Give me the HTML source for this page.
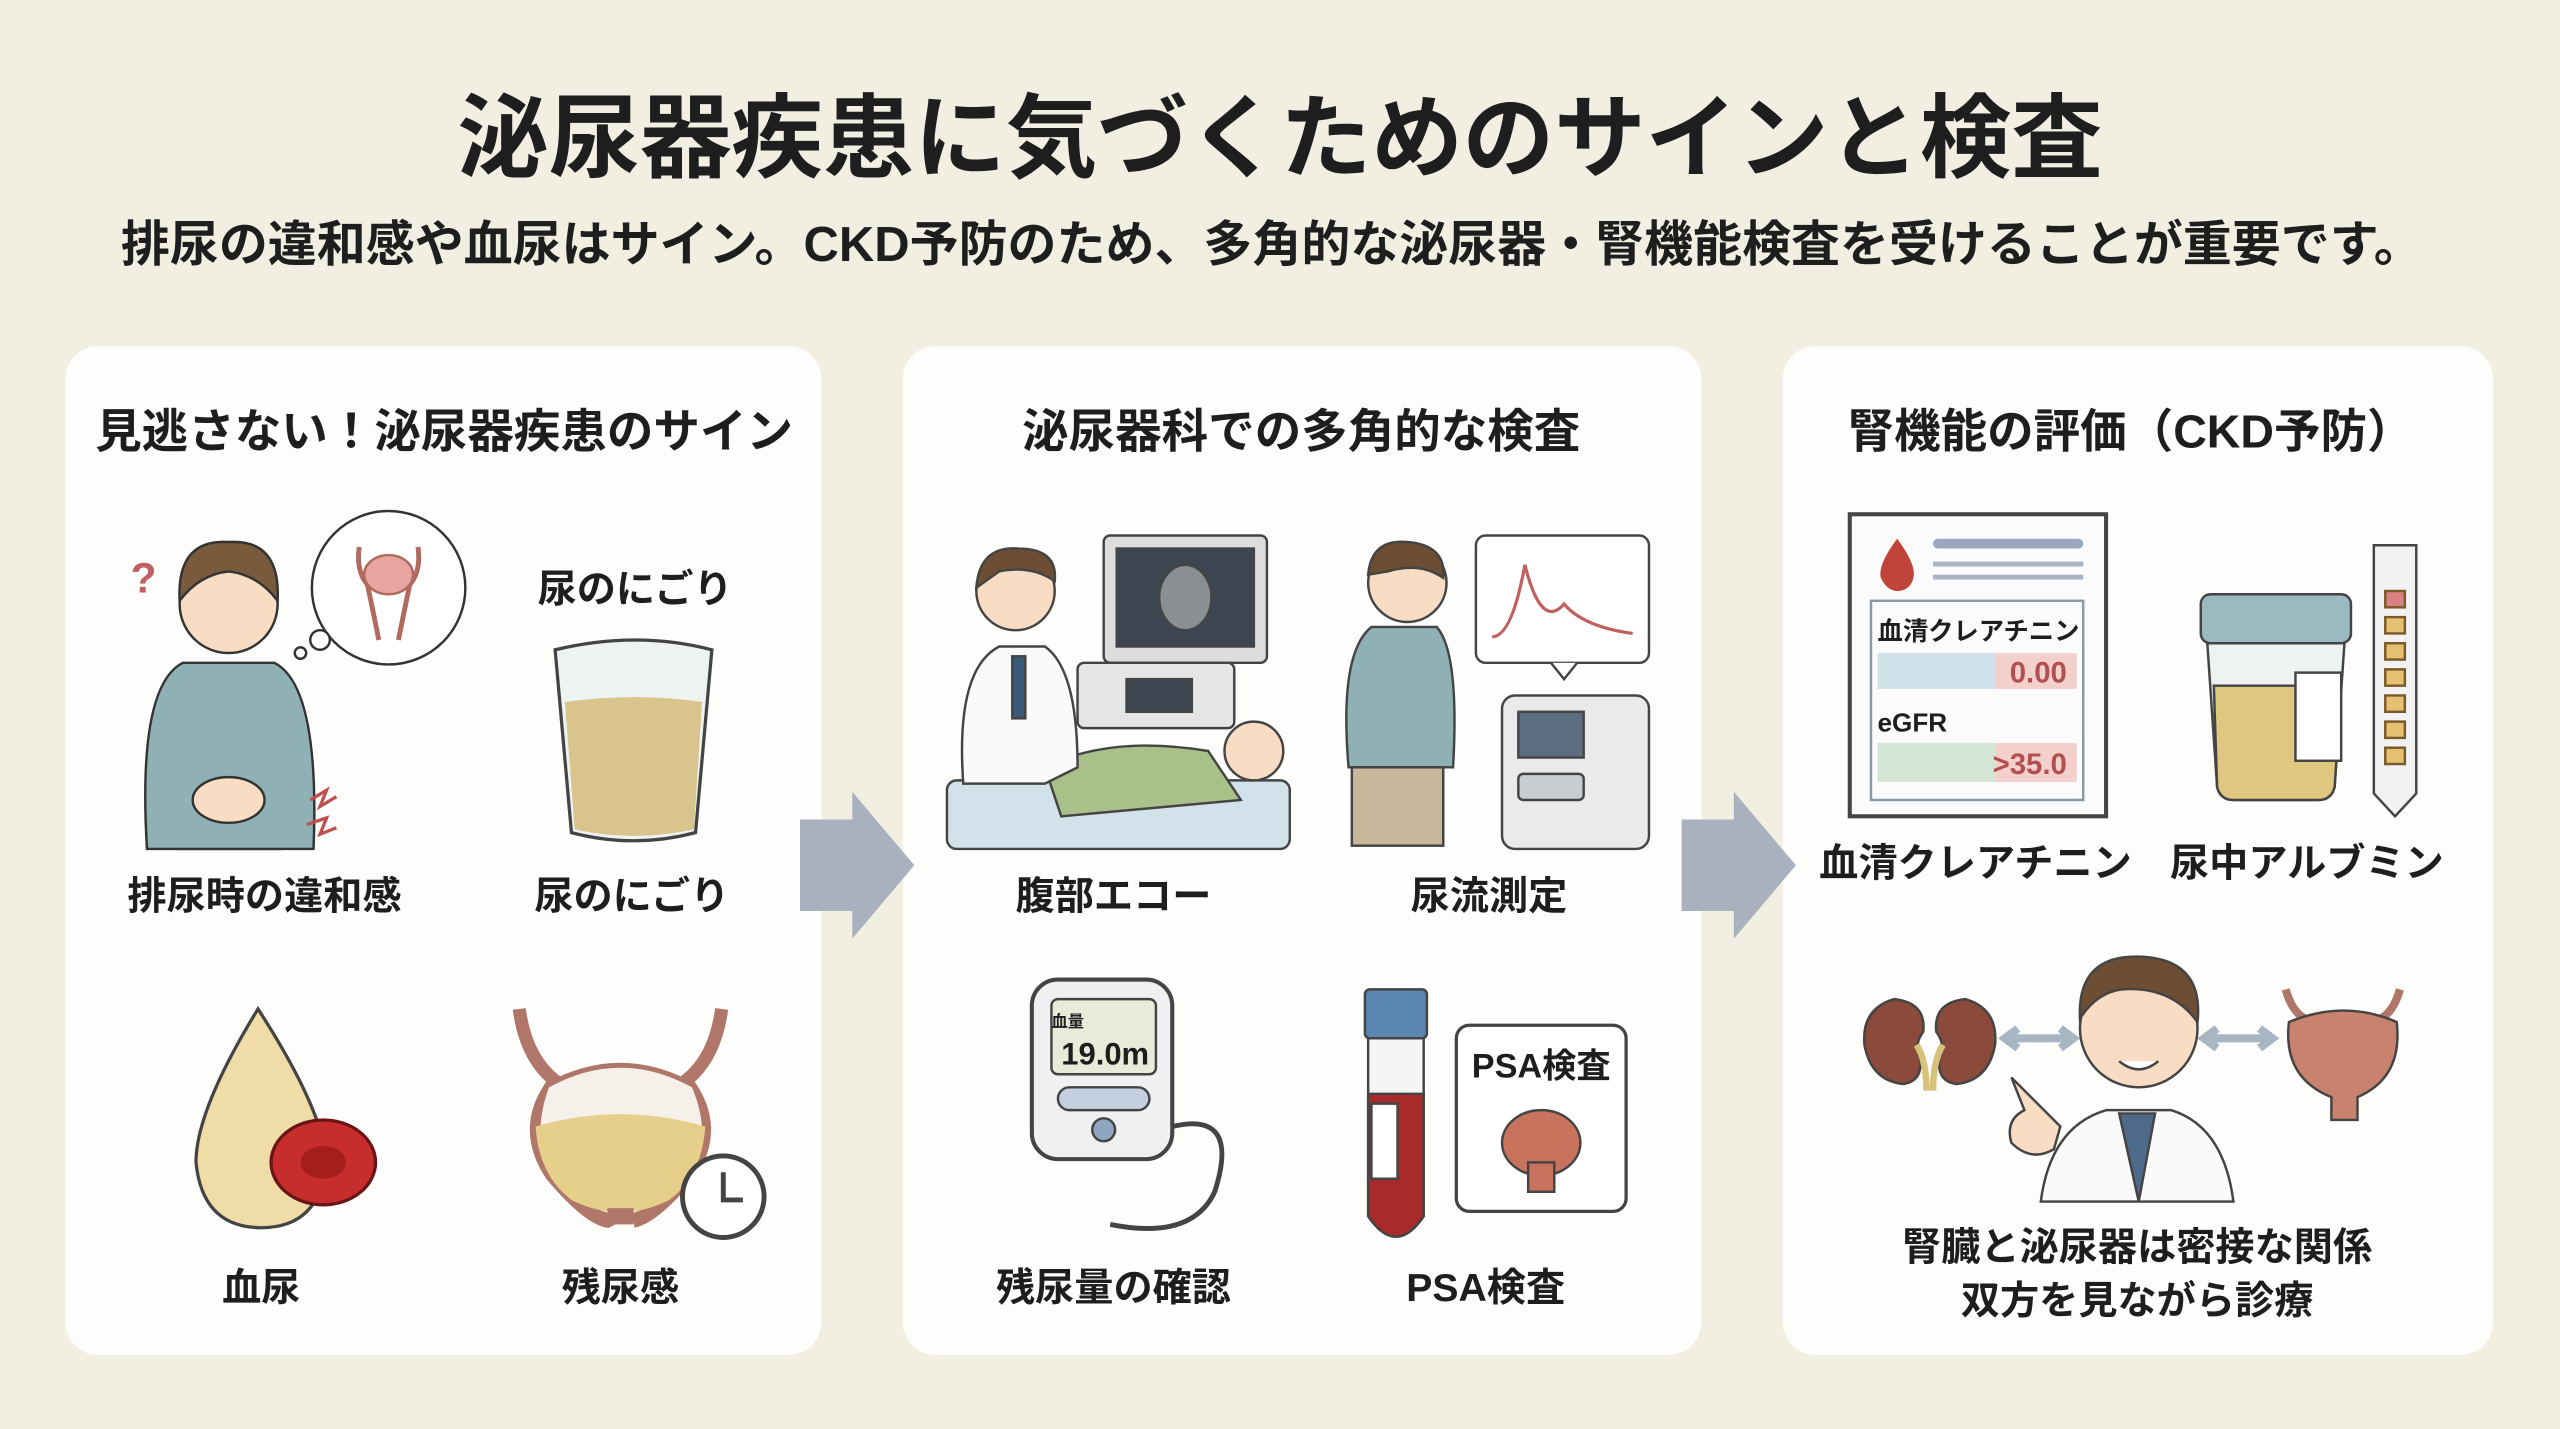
<!DOCTYPE html>
<html><head><meta charset="utf-8"><style>
html,body{margin:0;padding:0;background:#f1efe1;}
svg{display:block;}
text{font-family:"Liberation Sans","Noto Sans CJK JP",sans-serif;font-weight:bold;fill:#1e1e1e;}
</style></head><body>
<svg width="2560" height="1429" viewBox="0 0 1568 875.3" xmlns="http://www.w3.org/2000/svg">
<rect width="1568" height="876" fill="#f1efe1"/>
<text x="784" y="104" font-size="56" text-anchor="middle">泌尿器疾患に気づくためのサインと検査</text>
<text x="779" y="160" font-size="30" text-anchor="middle">排尿の違和感や血尿はサイン。CKD予防のため、多角的な泌尿器・腎機能検査を受けることが重要です。</text>

<rect x="40" y="212" width="463" height="618" rx="20" fill="#fdfdfb"/>
<rect x="553" y="212" width="489" height="618" rx="20" fill="#fdfdfb"/>
<rect x="1092" y="212" width="435" height="618" rx="20" fill="#fdfdfb"/>

<path d="M490 502 H522 V485 L560 530 L522 575 V558 H490 Z" fill="#a9b1bf"/>
<path d="M1030 502 H1062 V485 L1100 530 L1062 575 V558 H1030 Z" fill="#a9b1bf"/>

<g font-size="28.5" text-anchor="middle">
<text x="272" y="274">見逃さない！泌尿器疾患のサイン</text>
<text x="797" y="274">泌尿器科での多角的な検査</text>
<text x="1305" y="274">腎機能の評価（CKD予防）</text>
</g>
<g font-size="24" text-anchor="middle">
<text x="162" y="557">排尿時の違和感</text>
<text x="387" y="557">尿のにごり</text>
<text x="389" y="369">尿のにごり</text>
<text x="160" y="797">血尿</text>
<text x="380" y="797">残尿感</text>
<text x="682" y="557">腹部エコー</text>
<text x="912" y="557">尿流測定</text>
<text x="682" y="797">残尿量の確認</text>
<text x="910" y="797">PSA検査</text>
<text x="1210" y="537">血清クレアチニン</text>
<text x="1413" y="537">尿中アルブミン</text>
<text x="1309" y="772">腎臓と泌尿器は密接な関係</text>
<text x="1309" y="805">双方を見ながら診療</text>
</g>

<g stroke="#333" stroke-width="1.5">
<text x="80" y="363" font-size="26" fill="#c06060" stroke="none" style="fill:#c06060">?</text>
<rect x="108" y="470" width="64" height="50" fill="#c9b79b"/>
<path d="M90 520 Q84 420 112 406 L168 406 Q196 420 192 520 Z" fill="#8fb0b5"/>
<circle cx="140" cy="370" r="30" fill="#f8dcc4"/>
<path d="M110 368 Q108 330 140 332 Q172 330 170 368 Q158 352 140 350 Q122 352 110 368Z" fill="#7a5a3c"/>
<ellipse cx="140" cy="490" rx="22" ry="14" fill="#f8dcc4"/>
<circle cx="238" cy="360" r="47" fill="#fff"/>
<circle cx="196" cy="392" r="6" fill="#fff"/>
<circle cx="184" cy="400" r="3.5" fill="#fff"/>
<path d="M220 335 Q218 350 225 358 Q228 372 232 392 M256 335 Q258 350 251 358 Q248 372 244 392" fill="none" stroke="#b06a5f" stroke-width="3"/>
<ellipse cx="238" cy="352" rx="15" ry="12" fill="#e7a4a0" stroke="#b06a5f"/>
<path d="M190 490 l10 -6 -4 10 10 -6 M188 505 l12 -4 -4 10 10 -4" fill="none" stroke="#c05050" stroke-width="2"/>
</g>
<path d="M340 398 Q390 386 436 398 L426 510 Q388 520 350 510 Z" fill="#eef2f3" stroke="#444" stroke-width="2"/>
<path d="M346 430 Q390 424 430 430 L425 508 Q388 516 352 508 Z" fill="#d9c48b"/>
<path d="M158 618 Q120 680 120 712 Q124 752 160 752 Q196 752 200 712 Q198 680 158 618Z" fill="#efdca6" stroke="#444" stroke-width="2"/>
<ellipse cx="198" cy="712" rx="32" ry="26" fill="#c82d2d" stroke="#6a1515" stroke-width="2"/>
<ellipse cx="198" cy="712" rx="14" ry="10" fill="#a51e1e"/>
<path d="M318 618 Q322 648 340 662 Q318 690 338 720 Q360 746 372 748 L376 746 M442 618 Q438 648 420 662 Q442 690 422 720 Q400 746 388 748" fill="none" stroke="#b0766a" stroke-width="8"/>
<path d="M335 665 Q380 640 425 665 Q440 700 420 722 Q400 744 380 746 Q360 744 340 722 Q322 700 335 665Z" fill="#f5f0ea" stroke="#b0766a" stroke-width="3"/>
<path d="M328 690 Q380 675 432 690 Q430 720 410 735 Q380 750 350 735 Q330 720 328 690Z" fill="#e5cf8a"/>
<rect x="372" y="740" width="16" height="10" fill="#b0766a"/>
<circle cx="443" cy="733" r="25" fill="#fff" stroke="#444" stroke-width="3"/>
<path d="M443 718 V735 H455" stroke="#444" stroke-width="3" fill="none"/>

<g stroke="#444" stroke-width="1.5">
<rect x="676" y="328" width="100" height="78" rx="4" fill="#ddd"/>
<rect x="684" y="336" width="84" height="60" fill="#3d4650"/>
<ellipse cx="726" cy="366" rx="16" ry="20" fill="#8a8f94"/>
<rect x="660" y="406" width="96" height="40" rx="4" fill="#e3e5e7"/>
<rect x="690" y="416" width="40" height="20" fill="#3d4650"/>
<rect x="580" y="478" width="210" height="42" rx="6" fill="#d2e2ea"/>
<path d="M640 470 Q680 450 740 460 L760 490 L650 500Z" fill="#a9c08b"/>
<circle cx="768" cy="460" r="18" fill="#f8dcc4"/>
<path d="M590 480 Q585 410 612 396 L640 396 Q660 410 660 470 L640 480Z" fill="#fafafa"/>
<circle cx="622" cy="362" r="24" fill="#f8dcc4"/>
<path d="M598 360 Q600 334 624 336 Q648 336 646 356 Q632 346 612 350Z" fill="#6d4e35"/>
<rect x="620" y="402" width="8" height="38" fill="#3a5a7a"/>
<circle cx="862" cy="357" r="24" fill="#f8dcc4"/>
<path d="M838 352 Q840 330 862 332 Q886 334 884 354 Q870 344 850 350Z" fill="#6d4e35"/>
<path d="M826 470 Q820 400 840 384 L880 384 Q894 400 890 470Z" fill="#8fb0b5"/>
<rect x="828" y="470" width="56" height="48" fill="#c9b79b"/>
<rect x="904" y="328" width="106" height="78" rx="6" fill="#fff"/>
<path d="M914 390 Q926 390 934 346 Q944 386 958 370 Q970 384 1000 388" fill="none" stroke="#c06060" stroke-width="2"/>
<path d="M950 406 L958 416 L966 406" fill="#fff"/>
<rect x="920" y="426" width="90" height="94" rx="8" fill="#e8eaec"/>
<rect x="930" y="436" width="40" height="28" fill="#5b6d80"/>
<rect x="930" y="474" width="40" height="16" rx="3" fill="#c9cdd2"/>
<rect x="632" y="600" width="86" height="110" rx="16" fill="#eef0f2" stroke-width="2.5"/>
<rect x="644" y="612" width="64" height="46" rx="4" fill="#e7ecd9"/>
<rect x="648" y="666" width="56" height="14" rx="7" fill="#c4cfe0"/>
<circle cx="676" cy="692" r="7" fill="#8fa6c0"/>
<path d="M718 690 Q760 680 744 730 Q730 760 680 750" fill="none" stroke-width="3"/>
<rect x="836" y="606" width="38" height="30" rx="3" fill="#5a86b0"/>
<path d="M838 636 V745 Q855 770 872 745 V636Z" fill="#f5f5f5"/>
<path d="M838 670 V745 Q855 770 872 745 V670Z" fill="#a82a2a"/>
<rect x="840" y="676" width="16" height="46" fill="#fff"/>
<rect x="892" y="628" width="104" height="114" rx="8" fill="#fff" stroke-width="2"/>
<ellipse cx="944" cy="700" rx="24" ry="20" fill="#c7735d"/>
<rect x="936" y="712" width="16" height="18" fill="#c7735d"/>
</g>
<text x="644" y="629" font-size="10" font-weight="normal">血量</text>
<text x="650" y="652" font-size="19" font-weight="normal">19.0m</text>
<text x="944" y="660" font-size="21" text-anchor="middle">PSA検査</text>

<g stroke="#444" stroke-width="1.5">
<rect x="1133" y="315" width="157" height="185" fill="#fbfbfb" stroke-width="2.5"/>
<path d="M1162 330 Q1150 346 1152 354 Q1156 362 1162 362 Q1170 362 1172 354 Q1174 346 1162 330Z" fill="#c0443a" stroke="none"/>
<rect x="1184" y="330" width="92" height="6" rx="3" fill="#9aa8c0" stroke="none"/>
<rect x="1184" y="344" width="92" height="3" fill="#aab4c4" stroke="none"/>
<rect x="1184" y="352" width="92" height="3" fill="#aab4c4" stroke="none"/>
<rect x="1146" y="368" width="130" height="122" fill="none" stroke="#8899aa"/>
<rect x="1150" y="400" width="72" height="22" fill="#cfe2ea" stroke="none"/>
<rect x="1222" y="400" width="50" height="22" fill="#f4d0cc" stroke="none"/>
<rect x="1150" y="455" width="72" height="24" fill="#d3e6d3" stroke="none"/>
<rect x="1222" y="455" width="50" height="24" fill="#f4d0cc" stroke="none"/>
<rect x="1348" y="364" width="92" height="30" rx="6" fill="#9ab9c0"/>
<path d="M1352 394 H1436 L1430 482 Q1428 490 1420 490 H1368 Q1360 490 1358 482Z" fill="#eef2f2"/>
<path d="M1356 420 H1434 L1430 482 Q1428 490 1420 490 H1368 Q1360 490 1358 482Z" fill="#dfc77f"/>
<rect x="1406" y="412" width="28" height="54" fill="#fff"/>
<path d="M1454 334 H1480 V486 L1467 500 L1454 486Z" fill="#f2f2f2"/>
<g stroke="#7a5a2a"><rect x="1461" y="362" width="12" height="10" fill="#d98080"/><rect x="1461" y="378" width="12" height="10" fill="#e5c070"/><rect x="1461" y="394" width="12" height="10" fill="#e5c070"/><rect x="1461" y="410" width="12" height="10" fill="#e5c070"/><rect x="1461" y="426" width="12" height="10" fill="#e5c070"/><rect x="1461" y="442" width="12" height="10" fill="#e5c070"/><rect x="1461" y="458" width="12" height="10" fill="#e5c070"/></g>
<path d="M1160 612 Q1140 618 1142 640 Q1146 662 1166 664 Q1178 662 1176 648 Q1172 640 1178 632 Q1180 614 1160 612Z" fill="#8b4a3a"/>
<path d="M1204 612 Q1224 618 1222 640 Q1218 662 1198 664 Q1186 662 1188 648 Q1192 640 1186 632 Q1184 614 1204 612Z" fill="#8b4a3a"/>
<path d="M1174 640 Q1180 650 1180 668 M1190 640 Q1184 650 1184 668" stroke="#d6c27a" stroke-width="4" fill="none"/>
<path d="M1230 636 H1268 M1236 630 L1228 636 L1236 642 M1262 630 L1270 636 L1262 642" stroke="#a8b6c4" stroke-width="5" fill="none"/>
<path d="M1352 636 H1390 M1358 630 L1350 636 L1358 642 M1384 630 L1392 636 L1384 642" stroke="#a8b6c4" stroke-width="5" fill="none"/>
<path d="M1400 606 Q1404 620 1412 624 M1470 606 Q1466 620 1458 624" stroke="#b0766a" stroke-width="5" fill="none"/>
<path d="M1402 626 Q1436 612 1468 626 Q1472 660 1444 672 V686 H1428 V672 Q1398 660 1402 626Z" fill="#c8826e"/>
<path d="M1250 736 Q1256 690 1290 680 L1330 680 Q1362 690 1368 736Z" fill="#fafafa"/>
<path d="M1298 682 L1310 736 L1320 682Z" fill="#4e6a8a"/>
<circle cx="1310" cy="630" r="36" fill="#f8dcc4"/>
<path d="M1274 624 Q1272 584 1312 586 Q1350 588 1346 626 Q1330 604 1300 606 Q1284 608 1274 624Z" fill="#6d4e35"/>
<path d="M1298 650 Q1310 660 1322 650" fill="#fff"/>
<path d="M1232 660 L1240 680 Q1228 686 1232 700 Q1244 712 1258 704 L1262 690Z" fill="#f8dcc4"/>
</g>
<text x="1150" y="392" font-size="15.5">血清クレアチニン</text>
<text x="1266" y="418" font-size="18" font-weight="normal" text-anchor="end" style="fill:#b05050">0.00</text>
<text x="1150" y="448" font-size="16">eGFR</text>
<text x="1266" y="474" font-size="18" font-weight="normal" text-anchor="end" style="fill:#b05050">&gt;35.0</text>
</svg>
</body></html>
